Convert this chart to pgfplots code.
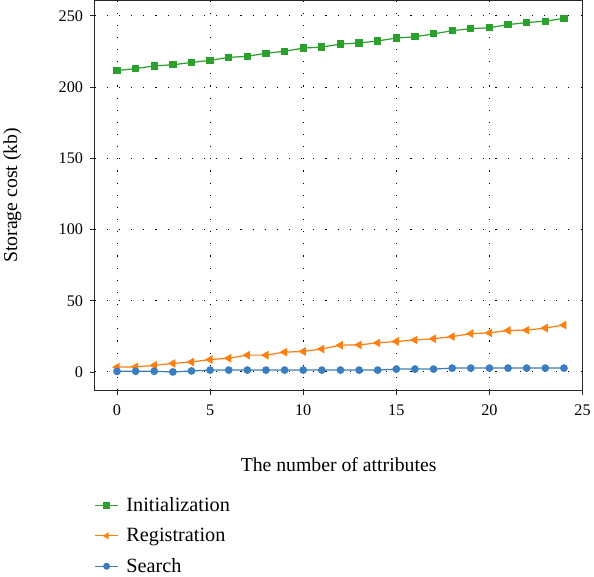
\documentclass[border=0pt]{standalone}
\usepackage{pgfplots}
\pgfplotsset{compat=1.18}
\usepackage{fontspec}
\setmainfont{Liberation Serif}
\definecolor{cgreen}{HTML}{2CA02C}
\definecolor{corange}{HTML}{FF7F0E}
\definecolor{cblue}{HTML}{3A7EBF}
\begin{document}
\begin{tikzpicture}
\begin{axis}[
  scale only axis, width=482pt, height=385pt,
  xmin=-1.2, xmax=25, ymin=-12.8, ymax=260.7,
  xtick={0,5,...,25}, ytick={0,50,...,250},
  tick align=outside, tick pos=left,
  major tick length=5pt,
  axis line style={line width=1pt, black!85},
  tick style={line width=0.8pt, black!85},
  grid=major,
  major grid style={black, line width=0.9pt, dash pattern=on 1.1pt off 10.9pt},
  /pgf/number format/assume math mode=true,
  ticklabel style={font=\fontsize{16}{18}\selectfont},
  xticklabel style={yshift=-6pt},
  yticklabel style={xshift=-3pt},
  xlabel={The number of attributes},
  ylabel={Storage cost (kb)},
  label style={font=\fontsize{19.5}{22}\selectfont},
  xlabel style={at={(axis description cs:0.5,-0.165)}, anchor=north},
  ylabel style={at={(axis description cs:-0.143,0.5)}, anchor=south},
  legend style={draw=none, fill=none, at={(axis description cs:0,-0.27)}, anchor=north west,
    font=\fontsize{20}{23}\selectfont, row sep=11pt, column sep=6pt, inner sep=0pt},
  legend cell align=left,
  legend image code/.code={\draw[#1, mark repeat=2, mark phase=2, mark size=2.8pt] plot coordinates {(0pt,0pt)(11pt,0pt)(22pt,0pt)};},
]
\addplot[cgreen, line width=1.2pt, mark=square*, mark size=3pt] coordinates {
(0,211.5)(1,212.9)(2,214.8)(3,215.6)(4,217.2)(5,218.7)(6,220.8)(7,221.5)(8,223.7)(9,225.1)
(10,227.3)(11,228.0)(12,230.1)(13,230.9)(14,232.3)(15,234.4)(16,235.2)(17,237.3)(18,239.5)(19,240.9)
(20,241.6)(21,243.8)(22,245.2)(23,246.2)(24,248.1)};
\addlegendentry{Initialization}
\addplot[corange, line width=1.2pt, mark=triangle*, mark size=3.8pt, mark options={rotate=90}] coordinates {
(0,3.4)(1,3.6)(2,4.6)(3,6.0)(4,7.0)(5,8.7)(6,9.6)(7,11.8)(8,11.8)(9,13.9)
(10,14.4)(11,16.1)(12,18.8)(13,19.0)(14,20.4)(15,21.4)(16,22.4)(17,23.3)(18,24.8)(19,26.9)
(20,27.4)(21,29.1)(22,29.3)(23,30.8)(24,32.9)};
\addlegendentry{Registration}
\addplot[cblue, line width=1.2pt, mark=*, mark size=3.2pt] coordinates {
(0,0.4)(1,0.5)(2,0.5)(3,0.0)(4,0.7)(5,1.3)(6,1.3)(7,1.3)(8,1.3)(9,1.3)
(10,1.3)(11,1.3)(12,1.3)(13,1.3)(14,1.3)(15,2.0)(16,2.0)(17,2.0)(18,2.7)(19,2.7)
(20,2.7)(21,2.7)(22,2.7)(23,2.7)(24,2.7)};
\addlegendentry{Search}
\end{axis}
\end{tikzpicture}
\end{document}
